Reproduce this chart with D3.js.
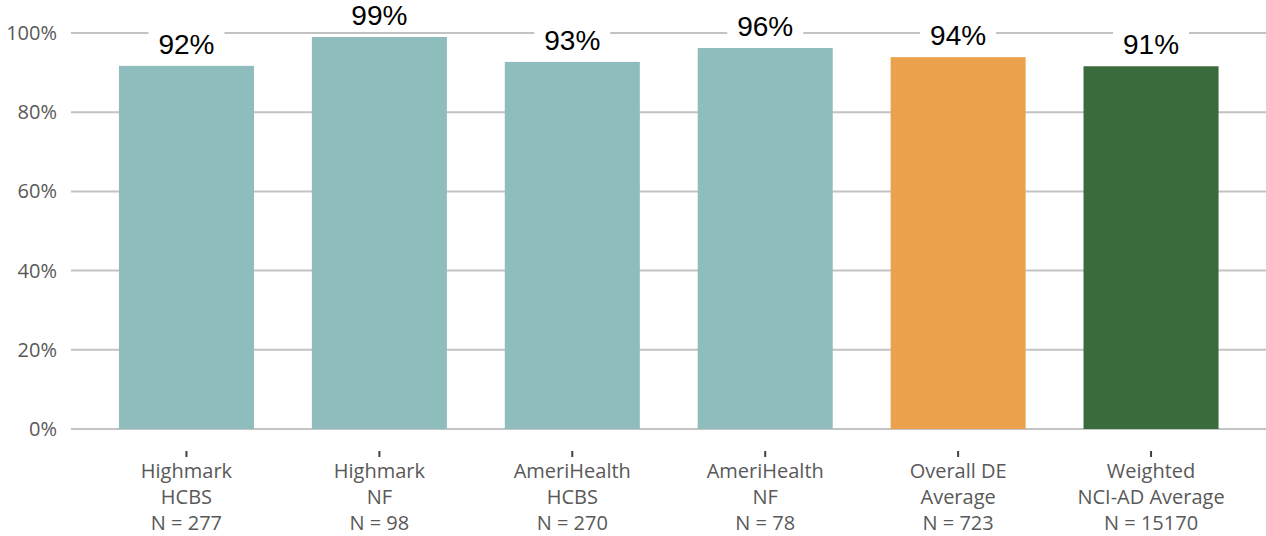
<!DOCTYPE html>
<html>
<head>
<meta charset="utf-8">
<script src="https://cdn.jsdelivr.net/npm/d3@7"></script>
<style>
    body { margin: 0; background: #ffffff; }
    svg { display: block; }
</style>
</head>
<body>
<svg id="canvas" width="1266" height="536"></svg>
<script>
let groupNames = ['Highmark', 'Highmark', 'AmeriHealth', 'AmeriHealth', 'Overall DE', 'Weighted']
let subNames = ['HCBS', 'NF', 'HCBS', 'NF', 'Average', 'NCI-AD Average']
let sampleSizes = ['N = 277', 'N = 98', 'N = 270', 'N = 78', 'N = 723', 'N = 15170']
let values = [0.917, 0.99, 0.927, 0.962, 0.939, 0.916]
let valueLabels = ['92%', '99%', '93%', '96%', '94%', '91%']
let barColors = ['#8fbcbc', '#8fbcbc', '#8fbcbc', '#8fbcbc', '#eca24d', '#3a6b3c']
let yTicks = [0, 0.2, 0.4, 0.6, 0.8, 1.0]

let canvas = d3.select('#canvas')

let keys = d3.range(values.length)

let xScale = d3.scaleBand()
               .domain(keys)
               .range([90, 1247.5])
               .paddingInner(0.3)
               .paddingOuter(0.15)

let yScale = d3.scaleLinear()
               .domain([0, 1])
               .range([429, 33])

// gridlines
canvas.append('g')
      .selectAll('line')
      .data(yTicks)
      .enter()
      .append('line')
      .attr('x1', 71)
      .attr('x2', 1266)
      .attr('y1', (d) => yScale(d))
      .attr('y2', (d) => yScale(d))
      .attr('stroke', '#c3c3c3')
      .attr('stroke-width', 2)

// y tick labels
canvas.append('g')
      .selectAll('text')
      .data(yTicks)
      .enter()
      .append('text')
      .attr('x', 57)
      .attr('y', (d) => yScale(d) + 7)
      .attr('text-anchor', 'end')
      .attr('font-family', 'Open Sans')
      .attr('font-size', 20)
      .attr('fill', '#595959')
      .text((d) => d3.format('.0%')(d))

// bars
canvas.append('g')
      .selectAll('rect')
      .data(keys)
      .enter()
      .append('rect')
      .attr('x', (i) => xScale(i))
      .attr('y', (i) => yScale(values[i]))
      .attr('width', xScale.bandwidth())
      .attr('height', (i) => yScale(0) - yScale(values[i]))
      .attr('fill', (i) => barColors[i])

// value labels with white boxes
let labels = canvas.append('g')
                   .selectAll('g')
                   .data(keys)
                   .enter()
                   .append('g')
                   .attr('transform', (i) => {
                       return 'translate(' + (xScale(i) + xScale.bandwidth() / 2) + ', ' + (yScale(values[i]) - 12) + ')'
                   })

labels.append('rect')
      .attr('x', -38)
      .attr('y', -26)
      .attr('width', 76)
      .attr('height', 29)
      .attr('fill', '#ffffff')

labels.append('text')
      .attr('text-anchor', 'middle')
      .attr('font-family', 'Liberation Sans, Arial, sans-serif')
      .attr('font-size', 28)
      .attr('fill', '#000000')
      .text((i) => valueLabels[i])

// x ticks
canvas.append('g')
      .selectAll('line')
      .data(keys)
      .enter()
      .append('line')
      .attr('x1', (i) => xScale(i) + xScale.bandwidth() / 2)
      .attr('x2', (i) => xScale(i) + xScale.bandwidth() / 2)
      .attr('y1', 451)
      .attr('y2', 457)
      .attr('stroke', '#404040')
      .attr('stroke-width', 2)

// category labels
let catText = canvas.append('g')
                    .selectAll('text')
                    .data(keys)
                    .enter()
                    .append('text')
                    .attr('text-anchor', 'middle')
                    .attr('font-family', 'Open Sans')
                    .attr('font-size', 20)
                    .attr('fill', '#595959')

let lineSets = [groupNames, subNames, sampleSizes]
lineSets.forEach((set, row) => {
    catText.append('tspan')
           .attr('x', (i) => xScale(i) + xScale.bandwidth() / 2)
           .attr('y', 478 + row * 26)
           .text((i) => set[i])
})
</script>
</body>
</html>
